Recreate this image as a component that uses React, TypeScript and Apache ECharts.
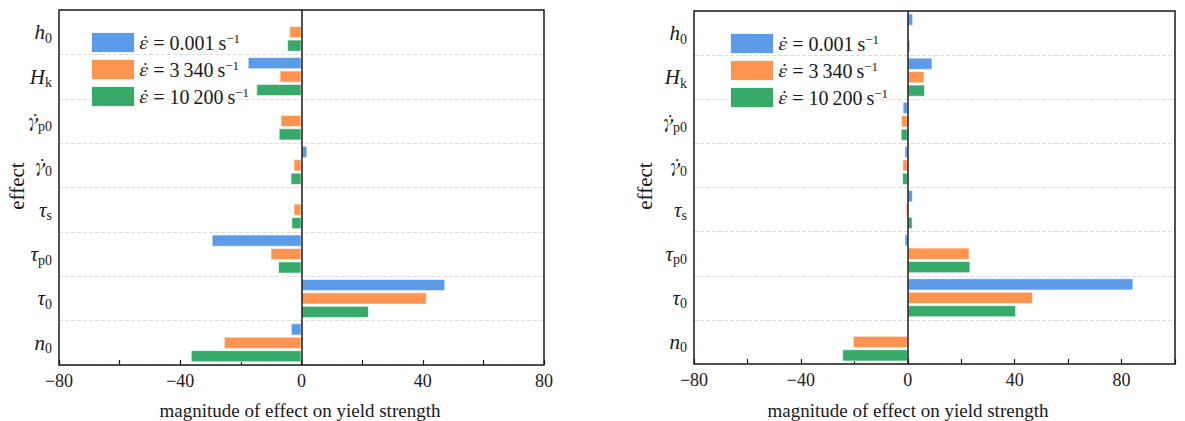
import React, { useEffect, useRef } from "react";
import * as echarts from "echarts";

// Parameters, listed top to bottom: symbol and subscript
const paramSymbols = ["h", "H", "γ̇", "γ̇", "τ", "τ", "τ", "n"];
const paramSubs = ["0", "k", "p0", "0", "s", "p0", "0", "0"];
const categories = paramSymbols.map((s, i) => s + "_" + paramSubs[i]);

// Strain rates (s^-1)
const rateNames = ["0.001", "3\u2009340", "10\u2009200"];
const rateColors = ["#5b9be8", "#ff9450", "#37aa69"];

// Left panel: magnitude of effect on yield strength
const leftRateA = [0, -17.7, 0, 1.9, -0.3, -29.6, 47.4, -3.5];
const leftRateB = [-4.0, -7.2, -6.9, -2.6, -2.6, -10.2, 41.3, -25.6];
const leftRateC = [-4.7, -14.9, -7.5, -3.6, -3.3, -7.7, 22.2, -36.5];

// Right panel
const rightRateA = [2.0, 9.2, -1.9, -1.2, 1.9, -1.2, 84.4, 0];
const rightRateB = [0, 6.2, -2.5, -2.0, -0.75, 23.1, 46.8, -20.5];
const rightRateC = [0.9, 6.4, -2.6, -2.1, 1.8, 23.4, 40.5, -24.5];

const xTickStep = 20;
const xLabelStep = 40;
const leftRange = [-80, 80];
const rightRange = [-80, 100];

const FONT = "Liberation Serif";
// dotted symbols need a font with mark positioning for the combining dot
const DOT_FONT = "FreeSerif, 'DejaVu Serif', serif";
const INK = "#1a1a1a";

export default function App() {
  const ref = useRef<HTMLDivElement>(null);

  useEffect(() => {
    document.body.style.margin = "0";
    const chart = echarts.init(ref.current!, null, { renderer: "svg" });

    const grids = [
      { left: 59, top: 10, width: 485, height: 355 },
      { left: 694, top: 11, width: 481, height: 353 },
    ];
    const ranges = [leftRange, rightRange];
    const panels = [
      [leftRateA, leftRateB, leftRateC],
      [rightRateA, rightRateB, rightRateC],
    ];

    const xAxes = ranges.map((r, gi) => ({
      type: "value",
      gridIndex: gi,
      min: r[0],
      max: r[1],
      interval: xTickStep,
      axisLine: { show: false },
      axisTick: { show: true, inside: true, length: 5, lineStyle: { color: INK, width: 1.2 } },
      axisLabel: {
        fontFamily: FONT,
        fontSize: 18,
        color: INK,
        margin: 7,
        formatter: (v: number) =>
          v % xLabelStep === 0 ? (v < 0 ? "\u2212" + Math.abs(v) : String(v)) : "",
      },
      splitLine: { show: false },
    }));

    const yAxes = grids.map((_, gi) => ({
      type: "category",
      gridIndex: gi,
      data: categories,
      inverse: true,
      axisLine: { show: false },
      axisTick: { show: false },
      axisLabel: {
        margin: 7,
        formatter: (v: string) => {
          const i = categories.indexOf(v);
          const sym = paramSymbols[i].length > 1 ? "d" : "i";
          return `{${sym}|${paramSymbols[i]}}{sub|${paramSubs[i]}}`;
        },
        rich: {
          i: { fontFamily: FONT, fontStyle: "italic", fontSize: 21, color: INK },
          d: { fontFamily: DOT_FONT, fontStyle: "italic", fontSize: 21, color: INK },
          sub: { fontFamily: FONT, fontSize: 14, color: INK, padding: [12, 0, 0, 0] },
        },
      },
      splitLine: { show: true, lineStyle: { color: "#dcdcdc", type: "dashed", width: 1 } },
    }));

    const series: any[] = [];
    panels.forEach((sets, gi) => {
      sets.forEach((vals, si) => {
        series.push({
          type: "bar",
          name: rateNames[si],
          xAxisIndex: gi,
          yAxisIndex: gi,
          data: vals,
          barWidth: 12,
          barGap: "12%",
          itemStyle: {
            color: rateColors[si],
            borderColor: "rgba(255,255,255,0.75)",
            borderWidth: 0.8,
          },
          markLine:
            si === 0
              ? {
                  silent: true,
                  symbol: "none",
                  label: { show: false },
                  lineStyle: { color: INK, type: "solid", width: 1.5 },
                  data: [{ xAxis: 0 }],
                  z: 10,
                }
              : undefined,
        });
      });
    });

    const legendBase = {
      orient: "vertical",
      itemWidth: 43,
      itemHeight: 20,
      itemGap: 6,
      icon: "rect",
      itemStyle: { borderColor: "rgba(255,255,255,0.8)", borderWidth: 1 },
      data: rateNames,
      formatter: (n: string) => `{e|ε̇} = ${n}\u2009s{sup|\u22121}`,
      textStyle: {
        fontFamily: FONT,
        fontSize: 20,
        color: INK,
        rich: {
          e: { fontFamily: DOT_FONT, fontStyle: "italic", fontSize: 21, color: INK },
          sup: { fontFamily: FONT, fontSize: 13, color: INK, verticalAlign: "top", lineHeight: 13 },
        },
      },
    };

    const yName = (x: number) => ({
      type: "text",
      x,
      y: 186,
      rotation: Math.PI / 2,
      style: {
        text: "effect",
        fontFamily: FONT,
        fontSize: 21,
        fill: INK,
        align: "center",
        verticalAlign: "middle",
      },
    });
    const xName = (x: number) => ({
      type: "text",
      x,
      y: 410,
      style: {
        text: "magnitude of effect on yield strength",
        fontFamily: FONT,
        fontSize: 19,
        fill: INK,
        align: "center",
        verticalAlign: "middle",
      },
    });
    // plot frames, drawn above the dashed separators
    const frame = (g: { left: number; top: number; width: number; height: number }) => ({
      type: "rect",
      z: 100,
      silent: true,
      shape: { x: g.left, y: g.top, width: g.width, height: g.height },
      style: { fill: "none", stroke: INK, lineWidth: 1.5 },
    });

    chart.setOption({
      animation: false,
      backgroundColor: "#fff",
      grid: grids.map((g) => ({ ...g, containLabel: false })),
      xAxis: xAxes,
      yAxis: yAxes,
      legend: [
        { ...legendBase, left: 86, top: 27 },
        { ...legendBase, left: 725, top: 28 },
      ],
      graphic: [frame(grids[0]), frame(grids[1]), yName(17), yName(645), xName(300), xName(908)],
      series,
    });

    return () => chart.dispose();
  }, []);

  return <div ref={ref} style={{ width: 1185, height: 421 }} />;
}
